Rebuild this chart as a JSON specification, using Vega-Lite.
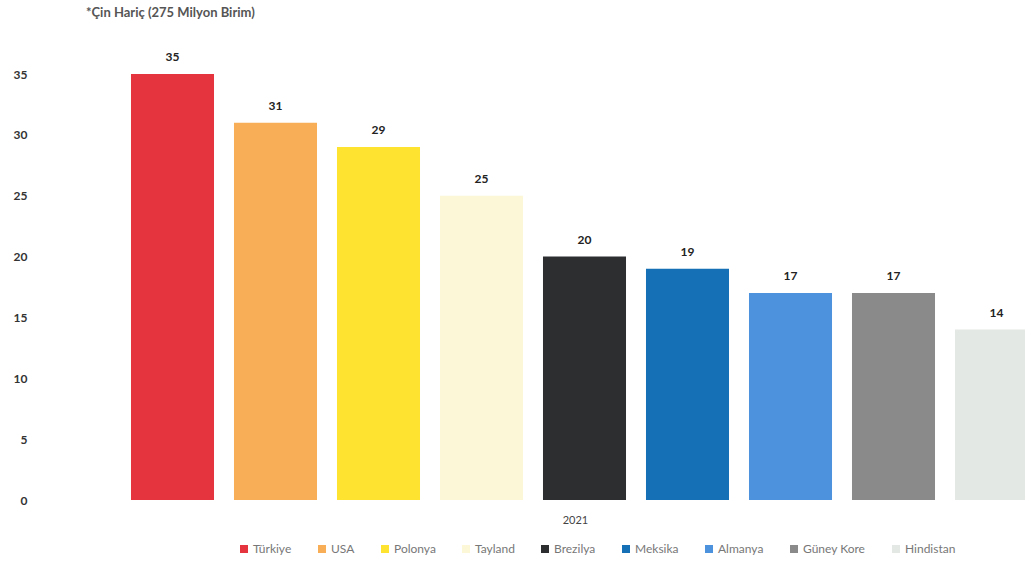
{
  "$schema": "https://vega.github.io/schema/vega-lite/v6.json",
  "width": 904,
  "height": 426,
  "autosize": {"type": "none"},
  "padding": {"left": 121, "top": 74, "right": 0, "bottom": 73},
  "background": "white",
  "title": {
    "text": "*Çin Hariç (275 Milyon Birim)",
    "anchor": "start",
    "frame": "group",
    "orient": "top",
    "offset": 31,
    "dx": -35,
    "font": "Lato",
    "fontSize": 13,
    "fontWeight": "bold",
    "color": "#555555"
  },
  "config": {
    "view": {"stroke": null},
    "font": "Lato"
  },
  "data": {
    "values": [
      {"country": "Türkiye", "value": 35},
      {"country": "USA", "value": 31},
      {"country": "Polonya", "value": 29},
      {"country": "Tayland", "value": 25},
      {"country": "Brezilya", "value": 20},
      {"country": "Meksika", "value": 19},
      {"country": "Almanya", "value": 17},
      {"country": "Güney Kore", "value": 17},
      {"country": "Hindistan", "value": 14}
    ]
  },
  "encoding": {
    "x": {
      "field": "country",
      "type": "nominal",
      "sort": null,
      "scale": {"range": [0, 927], "paddingInner": 0.194, "paddingOuter": 0.097},
      "axis": {
        "title": "2021",
        "labels": false,
        "ticks": false,
        "domain": false,
        "titleFont": "Lato",
        "titleFontSize": 11,
        "titleFontWeight": "normal",
        "titleColor": "#444444",
        "titlePadding": 14,
        "titleX": 454
      }
    },
    "y": {
      "field": "value",
      "type": "quantitative",
      "scale": {"domain": [0, 35], "nice": false},
      "axis": {
        "title": null,
        "values": [0, 5, 10, 15, 20, 25, 30, 35],
        "grid": false,
        "domain": false,
        "ticks": false,
        "labelPadding": 94,
        "labelFont": "Lato",
        "labelFontSize": 12,
        "labelFontWeight": "bold",
        "labelColor": "#333333"
      }
    }
  },
  "layer": [
    {
      "mark": {"type": "bar"},
      "encoding": {
        "color": {
          "field": "country",
          "type": "nominal",
          "sort": null,
          "scale": {
            "domain": ["Türkiye", "USA", "Polonya", "Tayland", "Brezilya", "Meksika", "Almanya", "Güney Kore", "Hindistan"],
            "range": ["#e5343d", "#f8ae57", "#fee331", "#fcf7d6", "#2d2e30", "#1570b5", "#4d92dc", "#8a8a8a", "#e4e8e4"]
          },
          "legend": {
            "title": null,
            "orient": "none",
            "legendX": 117,
            "legendY": 469,
            "direction": "horizontal",
            "columns": 9,
            "columnPadding": 24,
            "symbolType": "square",
            "symbolSize": 64,
            "symbolStrokeWidth": 0,
            "labelFont": "Lato",
            "labelFontSize": 12,
            "labelColor": "#777777",
            "labelOffset": 3
          }
        }
      }
    },
    {
      "mark": {
        "type": "text",
        "baseline": "bottom",
        "dy": -10,
        "font": "Lato",
        "fontSize": 12,
        "fontWeight": "bold",
        "color": "#222222"
      },
      "encoding": {
        "text": {"field": "value", "type": "quantitative"}
      }
    }
  ]
}
